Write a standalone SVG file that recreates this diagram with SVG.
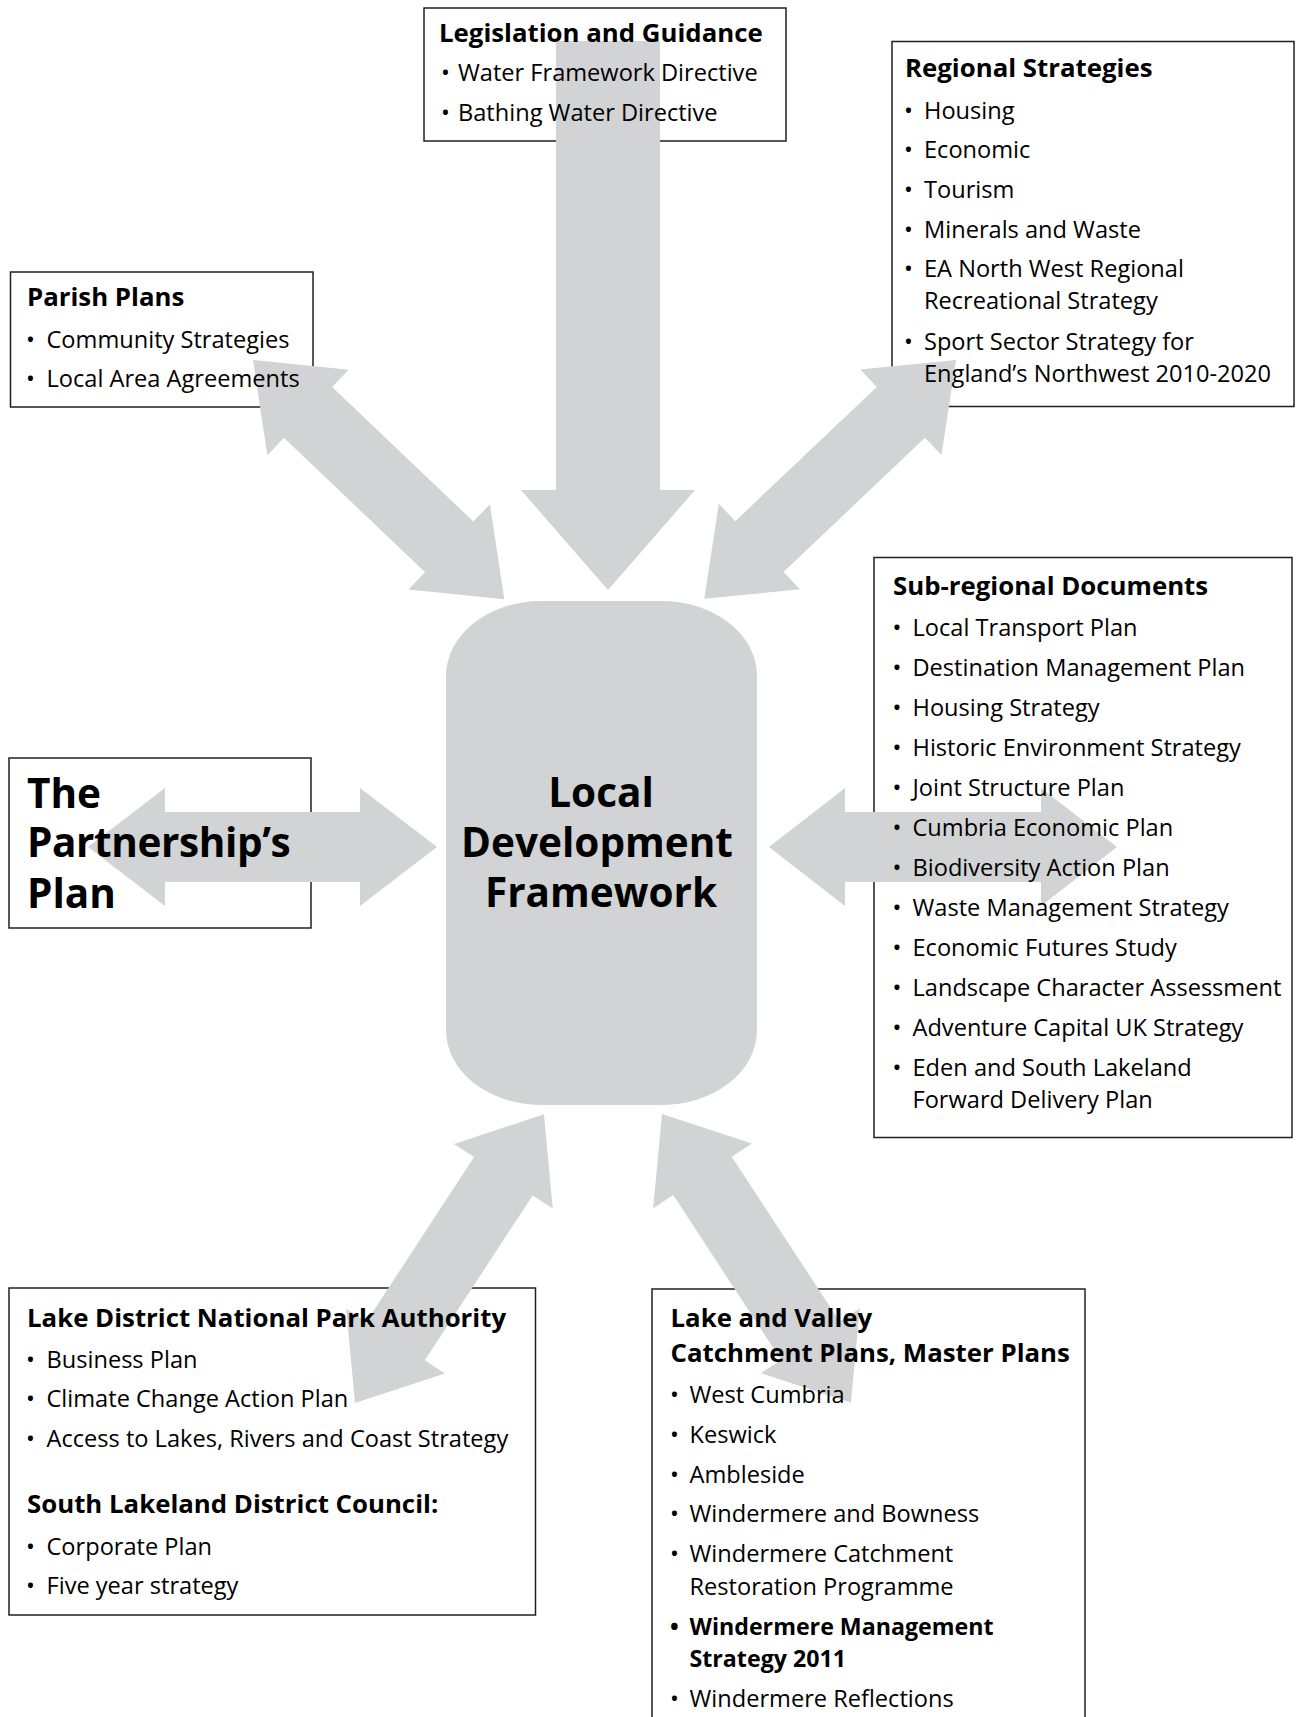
<svg xmlns="http://www.w3.org/2000/svg" width="1302" height="1717" viewBox="0 0 1302 1717">
<style>
.box{fill:#fff;stroke:#231f20;stroke-width:1.5}
.arrow{fill:#d1d3d4}
.ldf{fill:#d1d3d4}
.t{font-family:"Open Sans","Noto Sans","Liberation Sans",sans-serif;font-size:23.6px;fill:#000}
.h{font-weight:bold;font-size:25.8px}
.big{font-weight:bold;font-size:40.5px}
.b{font-weight:bold;font-size:23.2px}
</style>
<rect width="1302" height="1717" fill="#fff"/>

<!-- node frames -->
<g id="node-legislation"><rect class="box" x="424" y="8" width="362" height="133"/></g>
<g id="node-regional"><rect class="box" x="892" y="41.5" width="402" height="365"/></g>
<g id="node-parish"><rect class="box" x="10.5" y="272" width="302.5" height="135"/></g>
<g id="node-partnership"><rect class="box" x="9" y="758" width="302" height="170"/></g>
<g id="node-subregional"><rect class="box" x="874" y="557.5" width="418" height="580"/></g>
<g id="node-ldnpa"><rect class="box" x="9" y="1288" width="526.5" height="327"/></g>
<g id="node-lakevalley"><rect class="box" x="652" y="1289" width="433" height="440"/></g>

<!-- connectors -->
<g id="connectors">
  <polygon class="arrow" points="556,41 660,41 660,490 695,490 608,590 521,490 556,490"/>
  <polygon class="arrow" transform="translate(253,360) rotate(43.6)" points="0,0 76,-59 76,-35 271,-35 271,-59 347,0 271,59 271,35 76,35 76,59"/>
  <polygon class="arrow" transform="translate(956,360) rotate(136.5)" points="0,0 76,-59 76,-35 271,-35 271,-59 347,0 271,59 271,35 76,35 76,59"/>
  <polygon class="arrow" transform="translate(88,847)" points="0,0 77,-59 77,-35 272,-35 272,-59 349,0 272,59 272,35 77,35 77,59"/>
  <polygon class="arrow" transform="translate(769,847)" points="0,0 76,-59 76,-35 272,-35 272,-59 348,0 272,59 272,35 76,35 76,59"/>
  <polygon class="arrow" transform="translate(355,1403) rotate(-56.8)" points="0,0 74,-59 74,-35 271,-35 271,-59 345,0 271,59 271,35 74,35 74,59"/>
  <polygon class="arrow" transform="translate(662,1114) rotate(56.8)" points="0,0 74,-59 74,-35 271,-35 271,-59 345,0 271,59 271,35 74,35 74,59"/>
</g>

<!-- central node -->
<g id="node-ldf">
  <rect class="ldf" x="446" y="601" width="311" height="504" rx="95" ry="75"/>
  <text class="t big" text-anchor="middle"><tspan x="601" y="807">Local</tspan><tspan x="597" y="857">Development</tspan><tspan x="601" y="907">Framework</tspan></text>
</g>

<!-- labels -->
<g id="label-legislation">
  <text class="t h" x="439" y="41.5">Legislation and Guidance</text>
  <text class="t" y="81"><tspan x="441">•</tspan><tspan x="458">Water Framework Directive</tspan></text>
  <text class="t" y="120.5"><tspan x="441">•</tspan><tspan x="458">Bathing Water Directive</tspan></text>
</g>
<g id="label-regional">
  <text class="t h" x="905" y="77">Regional Strategies</text>
  <text class="t" y="118.5"><tspan x="904">•</tspan><tspan x="924">Housing</tspan></text>
  <text class="t" y="158"><tspan x="904">•</tspan><tspan x="924">Economic</tspan></text>
  <text class="t" y="198"><tspan x="904">•</tspan><tspan x="924">Tourism</tspan></text>
  <text class="t" y="237.5"><tspan x="904">•</tspan><tspan x="924">Minerals and Waste</tspan></text>
  <text class="t" y="277"><tspan x="904">•</tspan><tspan x="924">EA North West Regional</tspan></text>
  <text class="t" x="924" y="309">Recreational Strategy</text>
  <text class="t" y="350"><tspan x="904">•</tspan><tspan x="924">Sport Sector Strategy for</tspan></text>
  <text class="t" x="924" y="381.5">England’s Northwest 2010-2020</text>
</g>
<g id="label-parish">
  <text class="t h" x="27" y="306">Parish Plans</text>
  <text class="t" y="348"><tspan x="26">•</tspan><tspan x="46.5">Community Strategies</tspan></text>
  <text class="t" y="387"><tspan x="26">•</tspan><tspan x="46.5">Local Area Agreements</tspan></text>
</g>
<g id="label-partnership">
  <text class="t big"><tspan x="27" y="808">The</tspan><tspan x="27" y="857" letter-spacing="-0.4">Partnership’s</tspan><tspan x="27" y="908">Plan</tspan></text>
</g>
<g id="label-subregional">
  <text class="t h" x="893" y="595">Sub-regional Documents</text>
  <text class="t" y="636"><tspan x="892.5">•</tspan><tspan x="912.5">Local Transport Plan</tspan></text>
  <text class="t" y="676"><tspan x="892.5">•</tspan><tspan x="912.5">Destination Management Plan</tspan></text>
  <text class="t" y="716"><tspan x="892.5">•</tspan><tspan x="912.5">Housing Strategy</tspan></text>
  <text class="t" y="756"><tspan x="892.5">•</tspan><tspan x="912.5">Historic Environment Strategy</tspan></text>
  <text class="t" y="796"><tspan x="892.5">•</tspan><tspan x="912.5">Joint Structure Plan</tspan></text>
  <text class="t" y="836"><tspan x="892.5">•</tspan><tspan x="912.5">Cumbria Economic Plan</tspan></text>
  <text class="t" y="876"><tspan x="892.5">•</tspan><tspan x="912.5">Biodiversity Action Plan</tspan></text>
  <text class="t" y="916"><tspan x="892.5">•</tspan><tspan x="912.5">Waste Management Strategy</tspan></text>
  <text class="t" y="956"><tspan x="892.5">•</tspan><tspan x="912.5">Economic Futures Study</tspan></text>
  <text class="t" y="996"><tspan x="892.5">•</tspan><tspan x="912.5">Landscape Character Assessment</tspan></text>
  <text class="t" y="1036"><tspan x="892.5">•</tspan><tspan x="912.5">Adventure Capital UK Strategy</tspan></text>
  <text class="t" y="1076"><tspan x="892.5">•</tspan><tspan x="912.5">Eden and South Lakeland</tspan></text>
  <text class="t" x="912.5" y="1108">Forward Delivery Plan</text>
</g>
<g id="label-ldnpa">
  <text class="t h" x="27" y="1327">Lake District National Park Authority</text>
  <text class="t" y="1367.5"><tspan x="26">•</tspan><tspan x="46.5">Business Plan</tspan></text>
  <text class="t" y="1407"><tspan x="26">•</tspan><tspan x="46.5">Climate Change Action Plan</tspan></text>
  <text class="t" y="1447"><tspan x="26">•</tspan><tspan x="46.5">Access to Lakes, Rivers and Coast Strategy</tspan></text>
  <text class="t h" x="27" y="1513">South Lakeland District Council:</text>
  <text class="t" y="1554.5"><tspan x="26">•</tspan><tspan x="46.5">Corporate Plan</tspan></text>
  <text class="t" y="1594"><tspan x="26">•</tspan><tspan x="46.5">Five year strategy</tspan></text>
</g>
<g id="label-lakevalley">
  <text class="t h" x="670.5" y="1327">Lake and Valley</text>
  <text class="t h" x="670.5" y="1361.5">Catchment Plans, Master Plans</text>
  <text class="t" y="1403"><tspan x="670">•</tspan><tspan x="689.5">West Cumbria</tspan></text>
  <text class="t" y="1442.5"><tspan x="670">•</tspan><tspan x="689.5">Keswick</tspan></text>
  <text class="t" y="1482.5"><tspan x="670">•</tspan><tspan x="689.5">Ambleside</tspan></text>
  <text class="t" y="1522"><tspan x="670">•</tspan><tspan x="689.5">Windermere and Bowness</tspan></text>
  <text class="t" y="1562"><tspan x="670">•</tspan><tspan x="689.5">Windermere Catchment</tspan></text>
  <text class="t" x="689.5" y="1594.5">Restoration Programme</text>
  <text class="t b" y="1635"><tspan x="670">•</tspan><tspan x="689.5">Windermere Management</tspan></text>
  <text class="t b" x="689.5" y="1666.5">Strategy 2011</text>
  <text class="t" y="1707"><tspan x="670">•</tspan><tspan x="689.5">Windermere Reflections</tspan></text>
</g>
</svg>
